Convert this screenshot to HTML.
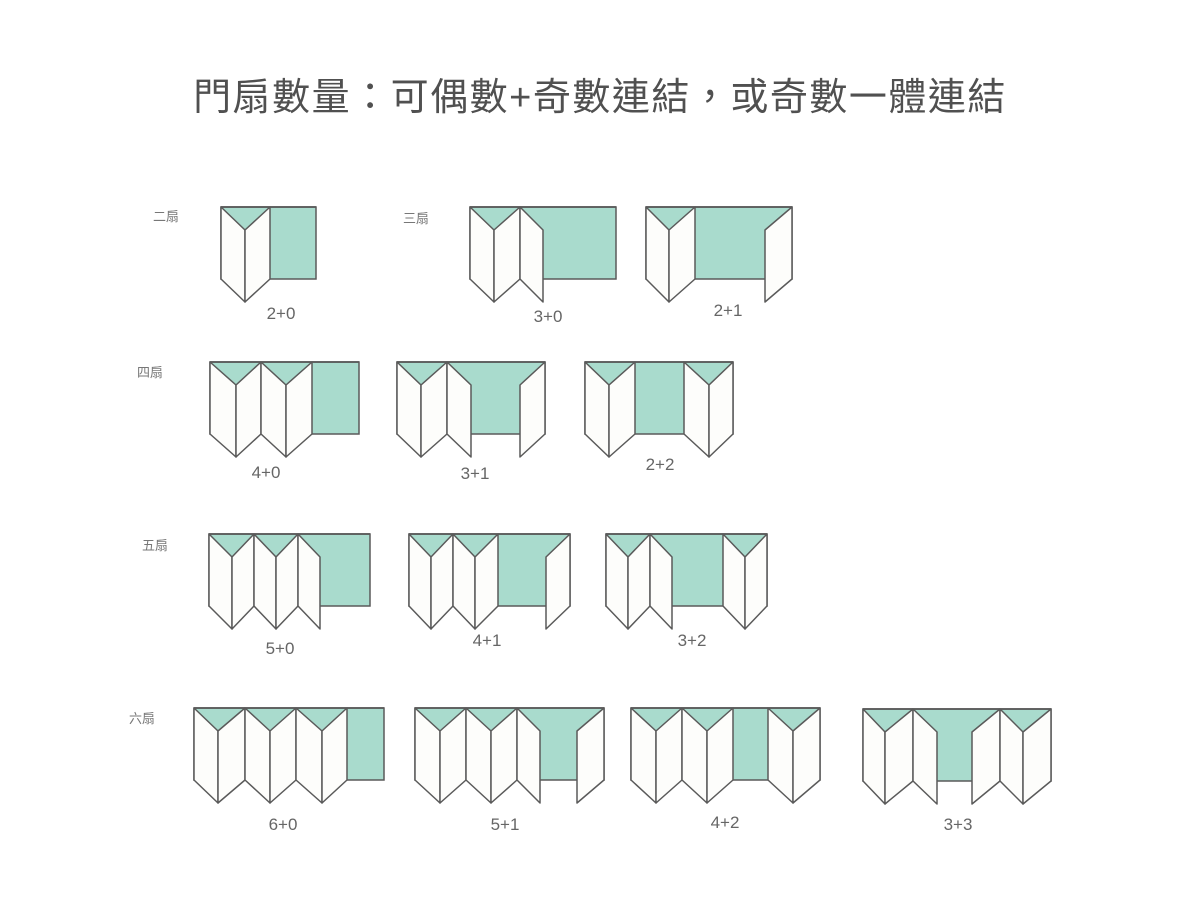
<!DOCTYPE html>
<html><head><meta charset="utf-8">
<style>
html,body{margin:0;padding:0;background:#fff;}
body{width:1200px;height:900px;position:relative;overflow:hidden;font-family:"Liberation Sans","Noto Sans CJK TC",sans-serif;}
.t{position:absolute;left:0;width:1200px;top:66px;text-align:center;font-size:38px;color:#505050;letter-spacing:1.5px;}
.r{position:absolute;font-size:13px;color:#777;}
.l{position:absolute;font-size:17px;color:#666;transform:translateX(-50%);}
svg{position:absolute;left:0;top:0;}
</style></head><body>
<div class="t">門扇數量：可偶數+奇數連結，或奇數一體連結</div>
<div class="r" style="left:153px;top:206px">二扇</div>
<div class="r" style="left:403px;top:208px">三扇</div>
<div class="r" style="left:137px;top:362px">四扇</div>
<div class="r" style="left:142px;top:535px">五扇</div>
<div class="r" style="left:129px;top:708px">六扇</div>

<div class="l" style="left:281px;top:304px">2+0</div>
<div class="l" style="left:548px;top:307px">3+0</div>
<div class="l" style="left:728px;top:301px">2+1</div>
<div class="l" style="left:266px;top:463px">4+0</div>
<div class="l" style="left:475px;top:464px">3+1</div>
<div class="l" style="left:660px;top:455px">2+2</div>
<div class="l" style="left:280px;top:639px">5+0</div>
<div class="l" style="left:487px;top:631px">4+1</div>
<div class="l" style="left:692px;top:631px">3+2</div>
<div class="l" style="left:283px;top:815px">6+0</div>
<div class="l" style="left:505px;top:815px">5+1</div>
<div class="l" style="left:725px;top:813px">4+2</div>
<div class="l" style="left:958px;top:815px">3+3</div>

<svg id="s" width="1200" height="900" xmlns="http://www.w3.org/2000/svg"></svg>
<script>
var D=[
 {y:207,L:[221,245,270],R:[],rx:316},
 {y:207,L:[470,494,520,543],R:[],rx:616},
 {y:207,L:[646,669,695],R:[765,792]},
 {y:362,L:[210,236,261,286,312],R:[],rx:359},
 {y:362,L:[397,421,447,471],R:[520,545]},
 {y:362,L:[585,609,635],R:[684,709,733]},
 {y:534,L:[209,232,254,276,298,320],R:[],rx:370},
 {y:534,L:[409,431,453,475,498],R:[546,570]},
 {y:534,L:[606,628,650,672],R:[723,745,767]},
 {y:708,L:[194,218,245,270,296,322,347],R:[],rx:384},
 {y:708,L:[415,440,466,491,517,540],R:[577,604]},
 {y:708,L:[631,656,682,707,733],R:[768,793,820]},
 {y:709,L:[863,885,913,937],R:[972,1000,1023,1051]}
];
var H=72,d=23,out='';
var G='#a9dbcd',S='#5a5a5a',W='#fdfdfb';
D.forEach(function(g){
  var x0=g.L[0],x1=g.R.length?g.R[g.R.length-1]:g.rx,y=g.y;
  out+='<rect x="'+x0+'" y="'+y+'" width="'+(x1-x0)+'" height="'+H+'" fill="'+G+'" stroke="'+S+'" stroke-width="1.5"/>';
  function panels(xs,startTop){
    for(var i=0;i<xs.length-1;i++){
      var ya=y+(((i%2==0)==startTop)?0:d), yb=y+(((i%2==0)==startTop)?d:0);
      out+='<polygon points="'+xs[i]+','+ya+' '+xs[i+1]+','+yb+' '+xs[i+1]+','+(yb+H)+' '+xs[i]+','+(ya+H)+'" fill="'+W+'" stroke="'+S+'" stroke-width="1.5" stroke-linejoin="round"/>';
    }
  }
  panels(g.L,true);
  if(g.R.length){ var n=g.R.length; panels(g.R,(n%2==1)); }
  out+='<line x1="'+x0+'" y1="'+y+'" x2="'+x1+'" y2="'+y+'" stroke="'+S+'" stroke-width="1.8"/>';
});
document.getElementById('s').innerHTML=out;
</script>
</body></html>
